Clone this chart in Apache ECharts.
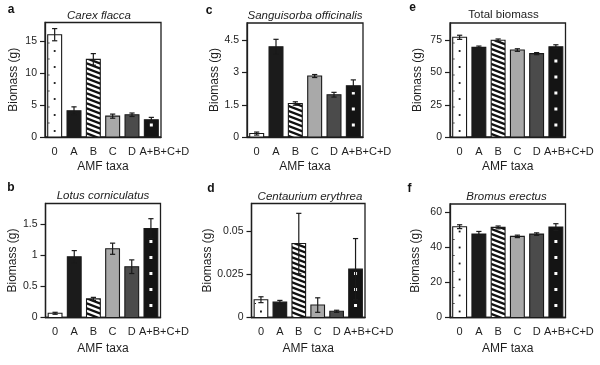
<!DOCTYPE html>
<html><head><meta charset="utf-8">
<script src="https://cdn.jsdelivr.net/npm/echarts@6/dist/echarts.min.js"></script>
<style>html,body{margin:0;padding:0;background:#fff}#c{width:600px;height:365px}</style>
</head><body><div id="c"></div>
<script>
// ---------- data ----------
const categories = ['0', 'A', 'B', 'C', 'D', 'A+B+C+D'];

const carexMean = [15.95, 4.1, 12.1, 3.25, 3.47, 2.7];
const carexErr  = [0.95, 0.6, 0.9, 0.32, 0.27, 0.36];
const carexTicks = [0, 5, 10, 15];

const lotusMean = [0.068, 0.98, 0.30, 1.11, 0.82, 1.435];
const lotusErr  = [0.016, 0.10, 0.025, 0.09, 0.11, 0.16];
const lotusTicks = [0, 0.5, 1, 1.5];

const sangMean = [0.16, 4.2, 1.56, 2.84, 1.97, 2.39];
const sangErr  = [0.07, 0.35, 0.08, 0.07, 0.11, 0.27];
const sangTicks = [0, 1.5, 3, 4.5];

const centMean = [0.0103, 0.0089, 0.0428, 0.0072, 0.0036, 0.028];
const centErr  = [0.0017, 0.001, 0.0175, 0.0042, 0.0006, 0.0177];
const centTicks = [0, 0.025, 0.05];

const totalMean = [77.4, 69.6, 75.1, 67.5, 64.7, 70.1];
const totalErr  = [1.6, 1.0, 1.0, 1.0, 0.8, 1.5];
const totalTicks = [0, 25, 50, 75];

const bromusMean = [51.6, 47.4, 51.2, 46.1, 47.4, 51.4];
const bromusErr  = [1.1, 1.5, 0.8, 0.7, 0.7, 1.9];
const bromusTicks = [0, 20, 40, 60];

const panelTitles = ['Carex flacca', 'Sanguisorba officinalis', 'Total biomass',
                     'Lotus corniculatus', 'Centaurium erythrea', 'Bromus erectus'];
const panelLetters = ['a', 'c', 'e', 'b', 'd', 'f'];
const yName = 'Biomass (g)';
const xName = 'AMF taxa';

// ---------- layout / style ----------
const FONT = 'Liberation Sans, Arial, Helvetica, sans-serif';
const INK = '#1e1e1e';
const panels = [
  {mean: carexMean, err: carexErr, ticks: carexTicks, max: 17.85, grid: {left: 45, top: 22.5, width: 116, height: 114.5},
   titleX: 99, titleY: 15.5, letterX: 11, letterY: 10, italic: true, yGap: 25, xGap: 24},
  {mean: sangMean, err: sangErr, ticks: sangTicks, max: 5.31, grid: {left: 247, top: 23, width: 116, height: 114},
   titleX: 305, titleY: 15.5, letterX: 209, letterY: 10.5, italic: true, yGap: 26.5, xGap: 24},
  {mean: totalMean, err: totalErr, ticks: totalTicks, max: 88.5, grid: {left: 450, top: 23, width: 115.5, height: 114},
   titleX: 503.5, titleY: 15, letterX: 412.5, letterY: 8, italic: false, yGap: 26.5, xGap: 24},
  {mean: lotusMean, err: lotusErr, ticks: lotusTicks, max: 1.84, grid: {left: 45.5, top: 203.5, width: 115, height: 114},
   titleX: 103, titleY: 196, letterX: 11, letterY: 187.5, italic: true, yGap: 26, xGap: 25},
  {mean: centMean, err: centErr, ticks: centTicks, max: 0.066, grid: {left: 251.5, top: 203.5, width: 113.5, height: 114},
   titleX: 310, titleY: 197, letterX: 211, letterY: 189, italic: true, yGap: 33, xGap: 25},
  {mean: bromusMean, err: bromusErr, ticks: bromusTicks, max: 64.5, grid: {left: 450, top: 204, width: 115.5, height: 113.5},
   titleX: 506.5, titleY: 196.5, letterX: 409.5, letterY: 189, italic: true, yGap: 28, xGap: 25}
];
panels.forEach((p, k) => { p.title = panelTitles[k]; p.letter = panelLetters[k]; });

// stripe pattern
const stripe = document.createElement('canvas');
stripe.width = 13; stripe.height = 5;
(function () {
  const c = stripe.getContext('2d');
  c.fillStyle = '#fff'; c.fillRect(0, 0, 13, 5);
  c.strokeStyle = '#111'; c.lineWidth = 2.3;
  for (let k = -3; k <= 3; k++) {
    c.beginPath(); c.moveTo(-13, -5 + k * 5); c.lineTo(26, 10 + k * 5); c.stroke();
  }
})();

const barStyles = [
  {fill: '#ffffff', dots: {color: '#111', size: 1.8, start: 6, edge: true}},
  {fill: '#1b1b1b'},
  {fill: {image: stripe, repeat: 'repeat'}},
  {fill: '#a9a9a9'},
  {fill: '#4b4b4b'},
  {fill: '#141414', dots: {color: '#ffffff', size: 3, start: 12}}
];

function renderBar(params, api) {
  const i = api.value(0), v = api.value(1), e = api.value(2);
  const base = api.coord([i, 0]);
  const top = api.coord([i, v]);
  const bw = api.size([1, 0])[0] * 0.72;
  const cx = base[0];
  const x0 = cx - bw / 2;
  const h = base[1] - top[1];
  const st = barStyles[i];
  const ch = [];
  ch.push({type: 'rect', shape: {x: x0, y: top[1], width: bw, height: h}, style: {fill: st.fill}});
  if (st.dots) {
    const s = st.dots.size;
    for (let y = base[1] - st.dots.start; y > top[1] + 3; y -= 16) {
      ch.push({type: 'rect', shape: {x: cx - s / 2, y: y - s / 2, width: s, height: s}, style: {fill: st.dots.color}});
      if (st.dots.edge && y - 8 > top[1] + 3) {
        ch.push({type: 'rect', shape: {x: x0 + 0.6, y: y - 8 - 0.6, width: 1.2, height: 1.2}, style: {fill: st.dots.color}});
      }
    }
  }
  ch.push({type: 'rect', shape: {x: x0, y: top[1], width: bw, height: h}, style: {fill: 'none', stroke: '#1a1a1a', lineWidth: 1.1}});
  const hi = api.coord([i, v + e]), lo = api.coord([i, v - e]);
  const cap = 2.6;
  ch.push({type: 'line', shape: {x1: cx, y1: hi[1], x2: cx, y2: lo[1]}, style: {stroke: '#1a1a1a', lineWidth: 1.2}});
  ch.push({type: 'line', shape: {x1: cx - cap, y1: hi[1], x2: cx + cap, y2: hi[1]}, style: {stroke: '#1a1a1a', lineWidth: 1.2}});
  ch.push({type: 'line', shape: {x1: cx - cap, y1: lo[1], x2: cx + cap, y2: lo[1]}, style: {stroke: '#1a1a1a', lineWidth: 1.2}});
  return {type: 'group', children: ch};
}

const grid = [], xAxis = [], yAxis = [], series = [], graphic = [];
panels.forEach((p, k) => {
  grid.push(Object.assign({show: true, borderColor: INK, borderWidth: 1.3, backgroundColor: 'transparent'}, p.grid));
  xAxis.push({
    type: 'category', gridIndex: k, data: categories,
    axisLine: {lineStyle: {color: INK, width: 1.3}},
    axisTick: {alignWithLabel: true, length: 5, lineStyle: {color: INK, width: 1.2}},
    axisLabel: {
      interval: 0, color: INK, fontSize: 11, fontFamily: FONT, margin: 9,
      formatter: v => v === categories[categories.length - 1] ? '{w|' + v + '}' : v,
      rich: {w: {padding: [0, 0, 0, 26], color: INK, fontSize: 11, fontFamily: FONT}}
    },
    name: xName, nameLocation: 'middle', nameGap: p.xGap,
    nameTextStyle: {color: INK, fontSize: 12, fontFamily: FONT}
  });
  yAxis.push({
    type: 'value', gridIndex: k, min: 0, max: p.max,
    axisLine: {show: true, lineStyle: {color: INK, width: 1.3}},
    axisTick: {show: true, length: 5, customValues: p.ticks, lineStyle: {color: INK, width: 1.2}},
    axisLabel: {customValues: p.ticks, color: INK, fontSize: 10.5, fontFamily: FONT, margin: 8},
    splitLine: {show: false},
    name: yName, nameLocation: 'middle', nameGap: p.yGap,
    nameTextStyle: {color: INK, fontSize: 12, fontFamily: FONT}
  });
  series.push({
    type: 'custom', xAxisIndex: k, yAxisIndex: k, renderItem: renderBar,
    encode: {x: 0, y: 1},
    data: p.mean.map((m, i) => [i, m, p.err[i]]),
    clip: false
  });
  graphic.push({type: 'text', x: p.titleX, y: p.titleY,
    style: {text: p.title, fill: '#222', font: (p.italic ? 'italic ' : '') + '11.5px ' + FONT, textAlign: 'center', textVerticalAlign: 'middle'}});
  graphic.push({type: 'text', x: p.letterX, y: p.letterY,
    style: {text: p.letter, fill: '#111', font: 'bold 12px ' + FONT, textAlign: 'center', textVerticalAlign: 'middle'}});
});

const chart = echarts.init(document.getElementById('c'), null, {renderer: 'canvas', width: 600, height: 365});
chart.setOption({animation: false, backgroundColor: '#fff', grid, xAxis, yAxis, series, graphic});
</script>
</body></html>
